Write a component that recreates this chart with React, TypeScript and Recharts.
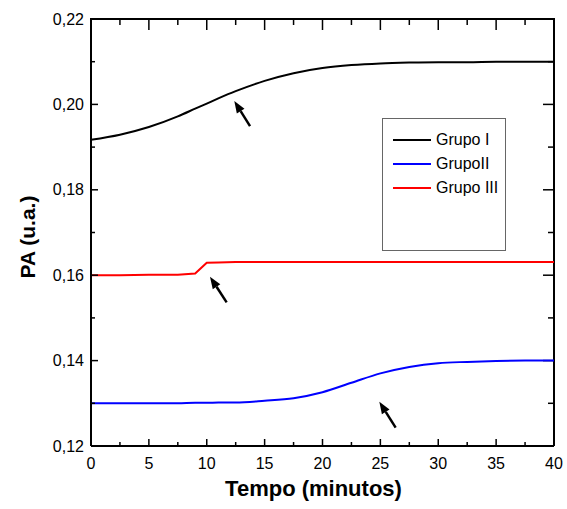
import React from "react";
import {
  LineChart,
  Line,
  XAxis,
  YAxis,
  Legend,
  Label,
  ReferenceLine,
  CartesianGrid,
} from "recharts";

// tempo (minutos)
const times = [0, 2.5, 5, 7.5, 9, 10, 11, 12.5, 15, 17.5, 20, 22.5, 25, 27.5, 30, 32.5, 35, 37.5, 40];

const grupoI = [
  0.1917, 0.1929, 0.1947, 0.1972, 0.199, 0.2002, 0.2014, 0.2031, 0.2055, 0.2073,
  0.2085, 0.2092, 0.2096, 0.2098, 0.2099, 0.2099, 0.21, 0.21, 0.21,
];
const grupoII = [
  0.13, 0.13, 0.13, 0.13, 0.1301, 0.1301, 0.1302, 0.1302, 0.1306, 0.1312,
  0.1326, 0.1348, 0.137, 0.1385, 0.1394, 0.1397, 0.1399, 0.14, 0.14,
];
const grupoIII = [
  0.16, 0.16, 0.1601, 0.1601, 0.1604, 0.1629, 0.163, 0.1631, 0.1631, 0.1631,
  0.1631, 0.1631, 0.1631, 0.1631, 0.1631, 0.1631, 0.1631, 0.1631, 0.1631,
];

const seriesKeys = ["g1", "g2", "g3"];
const seriesNames = ["Grupo I", "GrupoII", "Grupo III"];
const seriesColors = ["#000000", "#0000ff", "#ff0000"];

const xMajorTicks = [0, 5, 10, 15, 20, 25, 30, 35, 40];
const xMinorTicks = [2.5, 7.5, 12.5, 17.5, 22.5, 27.5, 32.5, 37.5];
const yMajorTicks = [0.12, 0.14, 0.16, 0.18, 0.2, 0.22];
const yMinorTicks = [0.13, 0.15, 0.17, 0.19, 0.21];

// arrows: [tempo, PA] of tail and head
const arrowTails = [
  [13.74, 0.1949],
  [11.72, 0.15365],
  [26.32, 0.12429],
];
const arrowHeads = [
  [12.38, 0.2008],
  [10.28, 0.15965],
  [24.91, 0.13038],
];

const data = times.map((t, i) => ({
  t,
  g1: grupoI[i],
  g2: grupoII[i],
  g3: grupoIII[i],
}));

const xTicks = [...xMajorTicks, ...xMinorTicks].sort((a, b) => a - b);
const yTicks = [...yMajorTicks, ...yMinorTicks].sort((a, b) => a - b);

const FONT = "'Liberation Sans', Arial, sans-serif";

const W = 567;
const H = 509;
const MARGIN = { top: 19, right: 13, bottom: 0, left: 0 };
const Y_AXIS_W = 91;
const X_AXIS_H = 63;
const PLOT_TOP = MARGIN.top;
const PLOT_W = W - MARGIN.left - MARGIN.right - Y_AXIS_W;

const isMajor = (list: number[], v: number) =>
  list.some((m) => Math.abs(m - v) < 1e-6);

const fmtY = (v: number) => v.toFixed(2).replace(".", ",");

const BottomTick = (props: any) => {
  const { x, y, payload } = props;
  const major = isMajor(xMajorTicks, payload.value);
  return (
    <g>
      <line x1={x} x2={x} y1={y} y2={y - (major ? 7 : 4)} stroke="#000" strokeWidth={1.5} />
      {major && (
        <text x={x} y={y + 23} textAnchor="middle" fontSize={16} fontFamily={FONT} fill="#000">
          {payload.value}
        </text>
      )}
    </g>
  );
};

const LeftTick = (props: any) => {
  const { x, y, payload } = props;
  const major = isMajor(yMajorTicks, payload.value);
  return (
    <g>
      <line x1={x} x2={x + (major ? 7 : 4)} y1={y} y2={y} stroke="#000" strokeWidth={1.5} />
      {major && (
        <text x={x - 7} y={y} dy="0.35em" textAnchor="end" fontSize={16} fontFamily={FONT} fill="#000">
          {fmtY(payload.value)}
        </text>
      )}
    </g>
  );
};

// top frame line and top ticks through the grid
const gridTopLine = (p: any) => (
  <line key={p.key} x1={p.x1} x2={p.x2} y1={p.y1} y2={p.y2} stroke="#000" strokeWidth={2} />
);
const gridTopTick = (p: any) => {
  const v = xTicks[p.index];
  const len = isMajor(xMajorTicks, v) ? 11 : 6;
  const top = Math.min(p.y1, p.y2);
  return <line key={p.key} x1={p.x1} x2={p.x1} y1={top} y2={top + len} stroke="#000" strokeWidth={1.5} />;
};

const rightTickShape = (len: number) => (p: any) => {
  const right = Math.max(p.x1, p.x2);
  return <line x1={right} x2={right - len} y1={p.y1} y2={p.y1} stroke="#000" strokeWidth={1.5} />;
};

const Arrow = (props: any) => {
  const { x1, y1, x2, y2 } = props;
  const dx = x2 - x1;
  const dy = y2 - y1;
  const len = Math.sqrt(dx * dx + dy * dy) || 1;
  const ux = dx / len;
  const uy = dy / len;
  const headLen = 12;
  const half = 4.5;
  const bx = x2 - ux * headLen;
  const by = y2 - uy * headLen;
  const pts = `${x2},${y2} ${bx - uy * half},${by + ux * half} ${bx + uy * half},${by - ux * half}`;
  return (
    <g>
      <line x1={x1} y1={y1} x2={bx} y2={by} stroke="#000" strokeWidth={2.5} />
      <polygon points={pts} fill="#000" />
    </g>
  );
};

const LegendBox = () => (
  <div
    style={{
      width: 122,
      height: 122,
      border: "1.5px solid #666",
      fontFamily: FONT,
      fontSize: 16,
      paddingTop: 9,
      boxSizing: "content-box",
    }}
  >
    {seriesNames.map((name, i) => (
      <div key={name} style={{ display: "flex", alignItems: "center", height: 24 }}>
        <span
          style={{
            display: "inline-block",
            width: 38,
            height: 2,
            marginLeft: 10,
            marginRight: 5,
            background: seriesColors[i],
          }}
        />
        <span style={{ color: "#000" }}>{name}</span>
      </div>
    ))}
  </div>
);

export default function App() {
  return (
    <div style={{ position: "absolute", left: 0, top: 0, width: W, height: H, background: "#fff" }}>
      <LineChart width={W} height={H} data={data} margin={MARGIN}>
        <CartesianGrid
          xAxisId="b"
          yAxisId="l"
          horizontalValues={[0.22]}
          verticalValues={xTicks}
          horizontal={gridTopLine}
          vertical={gridTopTick}
          stroke="#000"
        />
        <XAxis
          xAxisId="b"
          dataKey="t"
          type="number"
          orientation="bottom"
          domain={[0, 40]}
          ticks={xTicks}
          interval={0}
          height={X_AXIS_H}
          tickSize={0}
          tickMargin={0}
          tickLine={false}
          tick={<BottomTick />}
          axisLine={{ stroke: "#000", strokeWidth: 2 }}
        >
          <Label
            content={(p: any) => {
              const vb = p.viewBox;
              return (
                <text
                  x={vb.x + vb.width / 2 - 9}
                  y={vb.y + 50}
                  textAnchor="middle"
                  fontSize={22}
                  fontWeight="bold"
                  fontFamily={FONT}
                  fill="#000"
                >
                  Tempo (minutos)
                </text>
              );
            }}
          />
        </XAxis>
        <YAxis
          yAxisId="l"
          type="number"
          orientation="left"
          domain={[0.12, 0.22]}
          ticks={yTicks}
          interval={0}
          width={Y_AXIS_W}
          tickSize={0}
          tickMargin={0}
          tickLine={false}
          tick={<LeftTick />}
          axisLine={{ stroke: "#000", strokeWidth: 2 }}
        >
          <Label
            content={(p: any) => {
              const vb = p.viewBox;
              const cx = vb.x + 35;
              const cy = 237;
              return (
                <text
                  x={cx}
                  y={cy}
                  transform={`rotate(-90 ${cx} ${cy})`}
                  textAnchor="middle"
                  fontSize={21}
                  fontWeight="bold"
                  fontFamily={FONT}
                  fill="#000"
                >
                  PA (u.a.)
                </text>
              );
            }}
          />
        </YAxis>
        <Legend
          layout="vertical"
          align="center"
          verticalAlign="middle"
          content={<LegendBox />}
          wrapperStyle={{ left: 382, top: 118, width: 125 }}
        />
        <ReferenceLine xAxisId="b" yAxisId="l" ifOverflow="visible" x={40} stroke="#000" strokeWidth={2} />
        {yTicks.map((v) => (
          <ReferenceLine
            key={`ry${v}`}
            xAxisId="b"
            yAxisId="l"
            ifOverflow="visible"
            y={v}
            shape={rightTickShape(isMajor(yMajorTicks, v) ? 11 : 6)}
          />
        ))}
        {seriesKeys.map((k, i) => (
          <Line
            key={k}
            xAxisId="b"
            yAxisId="l"
            type={k === "g3" ? "linear" : "monotone"}
            dataKey={k}
            name={seriesNames[i]}
            stroke={seriesColors[i]}
            strokeWidth={2}
            dot={false}
            activeDot={false}
            isAnimationActive={false}
          />
        ))}
        {arrowTails.map((tail, i) => (
          <ReferenceLine
            key={i}
            xAxisId="b"
            yAxisId="l"
            ifOverflow="visible"
            segment={[
              { x: tail[0], y: tail[1] },
              { x: arrowHeads[i][0], y: arrowHeads[i][1] },
            ]}
            shape={Arrow}
          />
        ))}
      </LineChart>
      {/* top frame edge */}
      <div
        style={{
          position: "absolute",
          left: MARGIN.left + Y_AXIS_W - 1,
          top: PLOT_TOP - 1,
          width: PLOT_W + 2,
          height: 2,
          background: "#000",
          zIndex: 5,
        }}
      />
    </div>
  );
}
